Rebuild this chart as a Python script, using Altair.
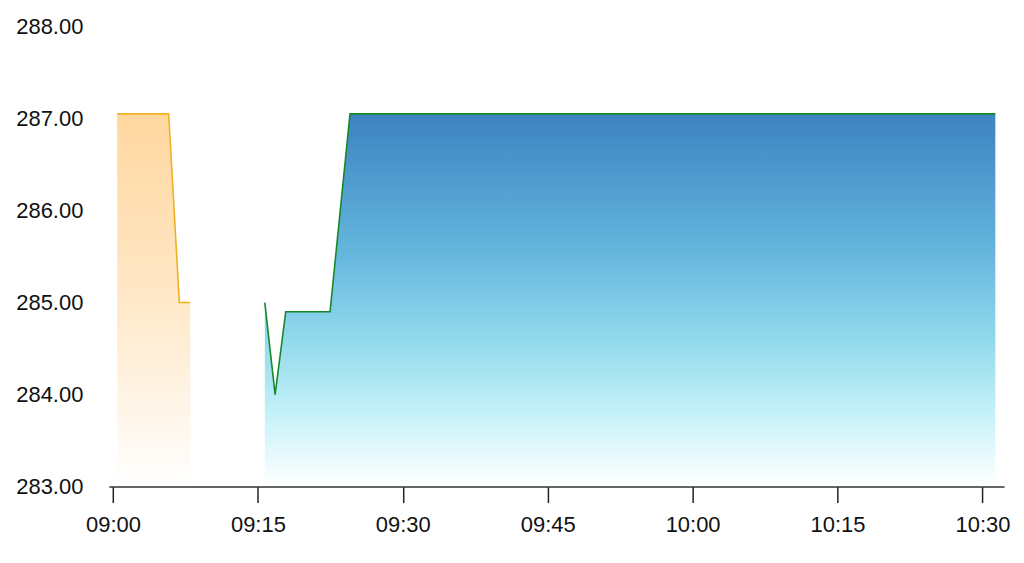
import altair as alt
import pandas as pd

# --- data ---
orange_times = ["2024-01-01T09:00:26", "2024-01-01T09:05:46", "2024-01-01T09:06:52", "2024-01-01T09:08:00"]
orange_values = [287.05, 287.05, 285.0, 285.0]

green_times = ["2024-01-01T09:15:43", "2024-01-01T09:16:47", "2024-01-01T09:17:53",
               "2024-01-01T09:22:28", "2024-01-01T09:24:32", "2024-01-01T10:31:20"]
green_values = [285.0, 284.0, 284.9, 284.9, 287.05, 287.05]

y_ticks = [283, 284, 285, 286, 287, 288]
x_tick_minutes = [(9, 0), (9, 15), (9, 30), (9, 45), (10, 0), (10, 15), (10, 30)]

df_orange = pd.DataFrame({"time": orange_times, "value": orange_values})
df_green = pd.DataFrame({"time": green_times, "value": green_values})

FONT = "Liberation Sans"

x_scale = alt.Scale(domain=[alt.DateTime(year=2024, month=1, date=1, hours=8, minutes=59, seconds=34),
                            alt.DateTime(year=2024, month=1, date=1, hours=10, minutes=32, seconds=14)])
y_scale = alt.Scale(domain=[283, 288], zero=False, nice=False)

x_axis = alt.Axis(
    title=None, format="%H:%M", grid=False,
    values=[alt.DateTime(year=2024, month=1, date=1, hours=h, minutes=m) for h, m in x_tick_minutes],
    labelFontSize=22, labelFont=FONT, labelColor="#111", labelPadding=12,
    tickSize=16, tickWidth=1.5, tickColor="#222", domainColor="#333", domainWidth=1.5,
    labelFlush=False, labelOverlap=False, zindex=1,
)
y_axis = alt.Axis(
    title=None, format=".2f", grid=False, values=y_ticks, domain=False, ticks=False,
    labelFontSize=22, labelFont=FONT, labelColor="#111", labelPadding=26,
)

orange_grad = alt.Gradient(
    gradient="linear", x1=0, x2=0, y1=0, y2=1,
    stops=[alt.GradientStop(color="#ffd79f", offset=0),
           alt.GradientStop(color="#ffe8c8", offset=0.5),
           alt.GradientStop(color="#ffffff", offset=1)],
)
blue_grad = alt.Gradient(
    gradient="linear", x1=0, x2=0, y1=0, y2=1,
    stops=[alt.GradientStop(color="#3d83c1", offset=0),
           alt.GradientStop(color="#62b3dc", offset=0.35),
           alt.GradientStop(color="#90d8ec", offset=0.6),
           alt.GradientStop(color="#c4f1f8", offset=0.8),
           alt.GradientStop(color="#ffffff", offset=1)],
)

orange = alt.Chart(df_orange).mark_area(
    fill=orange_grad, opacity=1, fillOpacity=1,
    line={"color": "#efb122", "strokeWidth": 1.6}
).encode(
    x=alt.X("time:T", scale=x_scale, axis=x_axis),
    y=alt.Y("value:Q", scale=y_scale, axis=y_axis),
    y2=alt.datum(283),
)

green = alt.Chart(df_green).mark_area(
    fill=blue_grad, opacity=1, fillOpacity=1,
    line={"color": "#16892a", "strokeWidth": 1.6}
).encode(
    x=alt.X("time:T", scale=x_scale, axis=x_axis),
    y=alt.Y("value:Q", scale=y_scale, axis=y_axis),
    y2=alt.datum(283),
)

chart = alt.layer(orange, green).properties(
    width=897, height=461,
    background="white",
    autosize=alt.AutoSizeParams(type="none"),
    padding={"left": 101, "top": 18, "right": 12, "bottom": 60},
).configure_view(strokeWidth=0, stroke="transparent")

chart.save("out.html", embed_options={"renderer": "svg", "actions": False})
